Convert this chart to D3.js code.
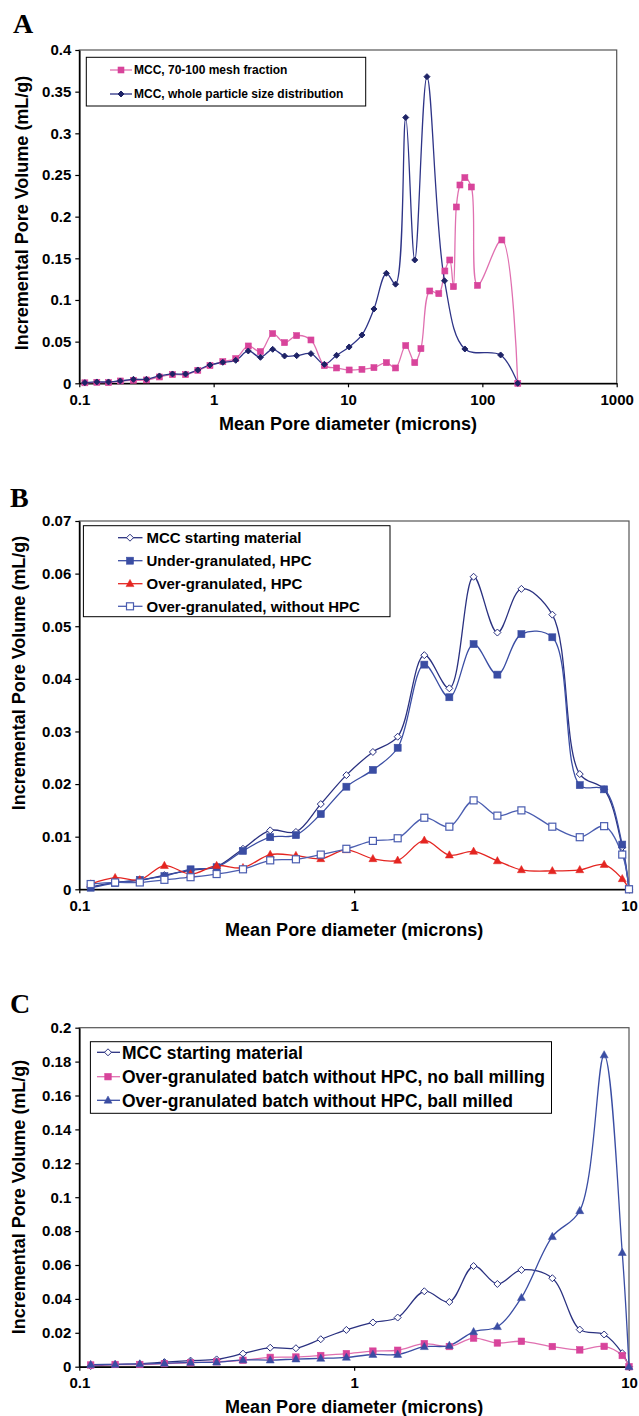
<!DOCTYPE html>
<html><head><meta charset="utf-8">
<script src="https://cdn.jsdelivr.net/npm/d3@7"></script>
<style>
html,body{margin:0;padding:0;background:#fff;}
svg text{font-family:"Liberation Sans",Arial,sans-serif;font-weight:bold;fill:#000;}
</style></head>
<body>
<script>
// ---------- Panel A data ----------
const aXTicks = [0.1, 1, 10, 100, 1000];
const aYTicks = [0, 0.05, 0.1, 0.15, 0.2, 0.25, 0.3, 0.35, 0.4];
const aMeshX = [0.110,0.135,0.165,0.202,0.253,0.316,0.395,0.494,0.618,0.762,0.939,1.17,1.46,1.81,2.23,2.75,3.37,4.15,5.3,6.67,8.22,10.2,12.7,15.6,19.3,22.6,26.9,31.4,34.9,40.6,47.4,52.6,57.2,60.9,64.0,68.1,74.1,82.8,92.0,139.7,183.5];
const aMeshY = [0.0006,0.0012,0.0008,0.0028,0.0036,0.004,0.0076,0.0104,0.0104,0.0156,0.0212,0.026,0.0296,0.0448,0.038,0.0596,0.0488,0.0572,0.052,0.0212,0.0184,0.016,0.0168,0.0188,0.0248,0.0184,0.0452,0.0248,0.0416,0.1108,0.1076,0.1348,0.148,0.116,0.2116,0.238,0.2468,0.2356,0.1176,0.172,0];
const aWholeX = [0.110,0.135,0.165,0.202,0.253,0.316,0.395,0.494,0.618,0.762,0.939,1.17,1.46,1.81,2.23,2.75,3.37,4.15,5.3,6.67,8.22,10.2,12.7,15.6,19.3,22.6,26.9,31.4,38.7,52.3,74.1,136.8,183.5];
const aWholeY = [0.0008,0.0016,0.0016,0.0028,0.0048,0.0048,0.0088,0.0112,0.0112,0.016,0.022,0.0252,0.0276,0.0388,0.0312,0.0408,0.0328,0.0332,0.0356,0.0228,0.0336,0.0436,0.058,0.0892,0.132,0.119,0.319,0.148,0.368,0.123,0.0412,0.034,0];
const aNames = ["MCC, 70-100 mesh fraction", "MCC, whole particle size distribution"];

// ---------- Panels B and C data ----------
const bcXTicks = [0.1, 1, 10];
const bYTicks = [0, 0.01, 0.02, 0.03, 0.04, 0.05, 0.06, 0.07];
const cYTicks = [0, 0.02, 0.04, 0.06, 0.08, 0.1, 0.12, 0.14, 0.16, 0.18, 0.2];
const bcX = [0.11,0.135,0.166,0.204,0.254,0.316,0.394,0.495,0.614,0.756,0.937,1.17,1.44,1.80,2.22,2.72,3.32,4.06,5.26,6.62,8.12,9.45,10];
const mccY = [0.0004,0.0013,0.0017,0.0027,0.0036,0.0043,0.0077,0.0112,0.0109,0.0162,0.0217,0.0261,0.0290,0.0445,0.0382,0.0594,0.0488,0.0571,0.0522,0.0219,0.0190,0.0080,0];
const underHpcY = [0.0003,0.0012,0.0018,0.0025,0.0038,0.0042,0.0073,0.0099,0.0103,0.0143,0.0195,0.0227,0.0269,0.0427,0.0365,0.0466,0.0408,0.0485,0.0479,0.0198,0.0190,0.0085,0];
const overHpcY = [0.0010,0.0022,0.0018,0.0045,0.0029,0.0045,0.0041,0.0066,0.0064,0.0058,0.0075,0.0058,0.0055,0.0093,0.0065,0.0072,0.0054,0.0037,0.0035,0.0037,0.0047,0.0020,0];
const overNoHpcY = [0.0010,0.0013,0.0013,0.0018,0.0023,0.0029,0.0038,0.0055,0.0057,0.0066,0.0077,0.0092,0.0097,0.0136,0.0119,0.0169,0.0140,0.0150,0.0119,0.0099,0.0120,0.0066,0];
const ballMilledY = [0.0012,0.0014,0.0016,0.0020,0.0025,0.0027,0.0040,0.0039,0.0045,0.0049,0.0055,0.0072,0.0072,0.0118,0.0125,0.0206,0.0236,0.0407,0.0767,0.0920,0.1839,0.0673,0];
const bNames = ["MCC starting material", "Under-granulated, HPC", "Over-granulated, HPC", "Over-granulated, without HPC"];
const cNames = ["MCC starting material", "Over-granulated batch without HPC, no ball milling", "Over-granulated batch without HPC, ball milled"];

const xTitle = "Mean Pore diameter (microns)";
const yTitle = "Incremental Pore Volume (mL/g)";

// ---------- drawing ----------
const svg = d3.select("body").append("svg").attr("width", 639).attr("height", 1416);

function drawMarker(g, type, x, y, s, color) {
  if (type === "square" || type === "osquare") {
    g.append("rect").attr("x", x - s/2).attr("y", y - s/2).attr("width", s).attr("height", s)
      .attr("fill", type === "square" ? color : "#fff").attr("stroke", color).attr("stroke-width", type === "square" ? 0.6 : 1.2);
  } else if (type === "diamond" || type === "odiamond") {
    const r = s/2;
    g.append("path").attr("d", `M${x},${y-r}L${x+r},${y}L${x},${y+r}L${x-r},${y}Z`)
      .attr("fill", type === "diamond" ? color : "#fff").attr("stroke", color).attr("stroke-width", 1);
  } else if (type === "triangle") {
    const w = s, h = s * 0.9;
    g.append("path").attr("d", `M${x},${y-h*0.6}L${x+w/2},${y+h*0.4}L${x-w/2},${y+h*0.4}Z`)
      .attr("fill", color).attr("stroke", color).attr("stroke-width", 0.5);
  }
}

function panel(cfg) {
  const {left, right, top, bottom} = cfg.frame;
  const x = d3.scaleLog().domain(cfg.xDomain).range([left, right]);
  const y = d3.scaleLinear().domain(cfg.yDomain).range([bottom, top]);
  const g = svg.append("g");

  g.append("text").attr("x", cfg.letter.x).attr("y", cfg.letter.y)
    .style("font-family", '"Liberation Serif","Times New Roman",serif').style("font-size", "28px").text(cfg.letter.t);

  g.append("rect").attr("x", left).attr("y", top).attr("width", right - left).attr("height", bottom - top)
    .attr("fill", "none").attr("stroke", "#555").attr("stroke-width", 1.2);

  const xa = g.append("g").attr("transform", `translate(0,${bottom})`)
    .call(d3.axisBottom(x).tickValues(cfg.xTicks).tickFormat(d => String(d)).tickSize(4).tickSizeOuter(0).tickPadding(7));
  const ya = g.append("g").attr("transform", `translate(${left},0)`)
    .call(d3.axisLeft(y).tickValues(cfg.yTicks).tickFormat(d => String(d)).tickSize(4).tickSizeOuter(0).tickPadding(4));
  [xa, ya].forEach(a => {
    a.select(".domain").attr("stroke", "#000").attr("stroke-width", 1.6);
    a.selectAll(".tick line").attr("stroke", "#000").attr("stroke-width", 1.2);
    a.selectAll("text").style("font-size", "15px").style("font-family", '"Liberation Sans",Arial,sans-serif').attr("fill", "#000");
  });

  g.append("text").attr("x", (left + right) / 2).attr("y", cfg.xTitleY).attr("text-anchor", "middle")
    .attr("dy", "0.35em").style("font-size", "18px").text(xTitle);
  g.append("text").attr("transform", `translate(${cfg.yTitle.x},${cfg.yTitle.y}) rotate(-90)`)
    .attr("text-anchor", "middle").attr("dy", "0.35em").style("font-size", "18px").text(yTitle);

  const line = d3.line().x(d => x(d[0])).y(d => y(d[1])).curve(d3.curveCatmullRom.alpha(0.5));
  cfg.series.forEach(s => {
    const pts = s.xs.map((v, i) => [v, s.ys[i]]);
    g.append("path").attr("d", line(pts)).attr("fill", "none").attr("stroke", s.line).attr("stroke-width", 1.3);
  });
  cfg.series.forEach(s => {
    const mg = g.append("g");
    s.xs.forEach((v, i) => drawMarker(mg, s.marker, x(v), y(s.ys[i]), s.size, s.color));
  });

  const L = cfg.legend;
  g.append("rect").attr("x", L.x0).attr("y", L.y0).attr("width", L.x1 - L.x0).attr("height", L.y1 - L.y0)
    .attr("fill", "#fff").attr("stroke", "#000").attr("stroke-width", 1);
  cfg.series.forEach((s, i) => {
    const yy = L.ys[i];
    g.append("line").attr("x1", L.lx0).attr("x2", L.lx1).attr("y1", yy).attr("y2", yy)
      .attr("stroke", s.line).attr("stroke-width", 1.3);
    drawMarker(g, s.marker, L.mx, yy, s.size, s.color);
    g.append("text").attr("x", L.tx).attr("y", yy).attr("dy", "0.36em").style("font-size", L.fs + "px").text(s.name);
  });
}

const pink = "#D8449B", pinkLine = "#E070B0";
const navy = "#1E2366", navyLine = "#2E3487";
const mccCol = "#2A3180", blueCol = "#3A4DA3", redCol = "#E42521", openCol = "#4A5DB0";

panel({
  letter: {x: 13, y: 33, t: "A"},
  frame: {left: 79.3, right: 616.7, top: 50, bottom: 383.3},
  xDomain: [0.1, 1000], yDomain: [0, 0.4], xTicks: aXTicks, yTicks: aYTicks,
  xTitleY: 424, yTitle: {x: 22, y: 213},
  series: [
    {name: aNames[0], xs: aMeshX, ys: aMeshY, marker: "square", size: 6, color: pink, line: pinkLine},
    {name: aNames[1], xs: aWholeX, ys: aWholeY, marker: "diamond", size: 6, color: navy, line: navyLine}
  ],
  legend: {x0: 86.3, x1: 365.7, y0: 57.3, y1: 106, ys: [70, 94], lx0: 110, lx1: 132, mx: 121, tx: 134, fs: 12}
});

panel({
  letter: {x: 10, y: 507, t: "B"},
  frame: {left: 79.3, right: 629, top: 521, bottom: 889.3},
  xDomain: [0.1, 10], yDomain: [0, 0.07], xTicks: bcXTicks, yTicks: bYTicks,
  xTitleY: 930, yTitle: {x: 18.5, y: 673},
  series: [
    {name: bNames[0], xs: bcX, ys: mccY, marker: "odiamond", size: 7, color: mccCol, line: mccCol},
    {name: bNames[1], xs: bcX, ys: underHpcY, marker: "square", size: 7, color: blueCol, line: blueCol},
    {name: bNames[2], xs: bcX, ys: overHpcY, marker: "triangle", size: 8, color: redCol, line: redCol},
    {name: bNames[3], xs: bcX, ys: overNoHpcY, marker: "osquare", size: 7, color: openCol, line: openCol}
  ],
  legend: {x0: 83.4, x1: 390, y0: 525.7, y1: 616.7, ys: [537.7, 560.7, 583.7, 606.3], lx0: 118, lx1: 142.5, mx: 130, tx: 146.5, fs: 15}
});

panel({
  letter: {x: 10, y: 1013, t: "C"},
  frame: {left: 79.3, right: 629, top: 1027.7, bottom: 1366.7},
  xDomain: [0.1, 10], yDomain: [0, 0.2], xTicks: bcXTicks, yTicks: cYTicks,
  xTitleY: 1407, yTitle: {x: 18.5, y: 1197},
  series: [
    {name: cNames[0], xs: bcX, ys: mccY, marker: "odiamond", size: 7, color: mccCol, line: mccCol},
    {name: cNames[1], xs: bcX, ys: overNoHpcY, marker: "square", size: 6.5, color: pink, line: pinkLine},
    {name: cNames[2], xs: bcX, ys: ballMilledY, marker: "triangle", size: 8, color: blueCol, line: blueCol}
  ],
  legend: {x0: 90.4, x1: 551.5, y0: 1041.7, y1: 1113.3, ys: [1052.3, 1076.7, 1100.3], lx0: 97, lx1: 120, mx: 108, tx: 122, fs: 17.5}
});
</script>
</body></html>
